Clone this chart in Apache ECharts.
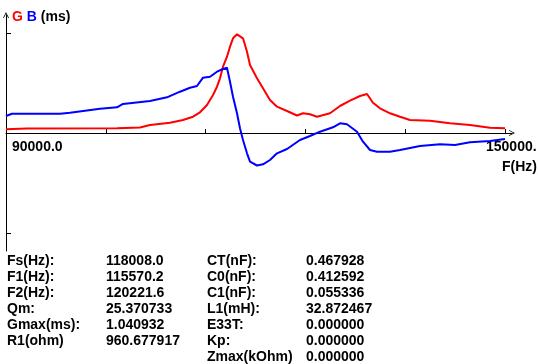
<!DOCTYPE html>
<html>
<head>
<meta charset="utf-8">
<script src="https://cdn.jsdelivr.net/npm/echarts@6/dist/echarts.min.js"></script>
<style>
html,body{margin:0;padding:0;background:#fff;}
#chart{width:538px;height:364px;}
</style>
</head>
<body>
<div id="chart"></div>
<script>
// Frequency (Hz) sample points for G (conductance, ms)
var gFreq = [90000, 92525, 103347, 106112, 107315, 109720, 111282, 112485, 113327, 114168, 114890, 115371, 115731, 116092, 116573, 116934, 117295, 117776, 118008, 118497, 118978, 119339, 120180, 120902, 121743, 122585, 123788, 124990, 125711, 126553, 127395, 128958, 130160, 131363, 132565, 133407, 134128, 134970, 136172, 137375, 138577, 140982, 143387, 145792, 148196, 150000];
var gVal  = [0.0385, 0.0468, 0.0489, 0.0573, 0.0833, 0.1072, 0.1353, 0.1697, 0.2155, 0.2915, 0.3956, 0.4819, 0.5694, 0.6901, 0.7942, 0.8983, 0.9858, 1.0274, 1.0409, 0.9858, 0.8463, 0.7078, 0.5694, 0.4653, 0.3435, 0.2738, 0.2290, 0.1822, 0.2051, 0.1947, 0.1697, 0.2051, 0.2810, 0.3362, 0.3851, 0.4060, 0.3154, 0.2571, 0.2051, 0.1697, 0.1353, 0.1280, 0.1010, 0.0833, 0.0552, 0.0489];
// Frequency (Hz) sample points for B (susceptance, ms)
var bFreq = [90000, 90721, 96493, 97695, 101303, 103347, 104068, 107315, 109359, 110922, 112124, 112966, 113687, 114529, 115371, 116092, 116573, 116934, 117295, 117776, 118136, 118497, 118978, 119339, 120180, 120902, 121743, 122585, 123788, 125351, 126553, 127756, 129319, 130160, 131002, 132204, 132926, 133768, 134609, 136172, 137375, 139780, 142184, 143988, 145792, 148196, 150000];
var bVal  = [0.1770, 0.2009, 0.2009, 0.2113, 0.2529, 0.2675, 0.3019, 0.3331, 0.3716, 0.4299, 0.4715, 0.4892, 0.5756, 0.5860, 0.6381, 0.6662, 0.6797, 0.5340, 0.3779, 0.2051, 0.0489, -0.0729, -0.2113, -0.2987, -0.3383, -0.3258, -0.2810, -0.2113, -0.1665, -0.0729, -0.0312, 0.0135, 0.0593, 0.1010, 0.0906, 0.0135, -0.0906, -0.1770, -0.1947, -0.1947, -0.1770, -0.1353, -0.1176, -0.1249, -0.0968, -0.0833, -0.0625];

var gMax = 1.040932;
var xTickValues = [102000, 114000, 126000, 138000, 150000];
var yTickValues = [-gMax, gMax];
var xLabelValues = [90000, 150000];
var xLabelTexts = ['90000.0', '150000.'];
var xAxisName = 'F(Hz)';
var titleParts = ['G', 'B', '(ms)'];

var tableLabels1 = ['Fs(Hz):', 'F1(Hz):', 'F2(Hz):', 'Qm:', 'Gmax(ms):', 'R1(ohm)'];
var tableValues1 = ['118008.0', '115570.2', '120221.6', '25.370733', '1.040932', '960.677917'];
var tableLabels2 = ['CT(nF):', 'C0(nF):', 'C1(nF):', 'L1(mH):', 'E33T:', 'Kp:', 'Zmax(kOhm)'];
var tableValues2 = ['0.467928', '0.412592', '0.055336', '32.872467', '0.000000', '0.000000', '0.000000'];

function pairs(xs, ys){ var o=[]; for(var i=0;i<xs.length;i++){o.push([xs[i], ys[i]]);} return o; }

var FONT = '"Liberation Sans", Arial, sans-serif';
var chart = echarts.init(document.getElementById('chart'), null, {renderer:'canvas'});
var arrow = 'path://M0,10L5,0L10,10L8.6,10L5,2.8L1.4,10Z';
var yLim = 118 * gMax / 100;

chart.setOption({
  animation: false,
  backgroundColor: '#ffffff',
  grid: {left: 6, right: 26, top: 15, bottom: 113, containLabel: false},
  xAxis: {
    type: 'value', min: 90000, max: 150842,
    axisLine: {show: true, onZero: true, lineStyle: {color: '#000', width: 1}, symbol: ['none', arrow], symbolSize: [10, 6]},
    axisTick: {show: true, inside: true, length: 4, customValues: xTickValues, lineStyle: {color: '#000'}},
    axisLabel: {show: false},
    splitLine: {show: false}
  },
  yAxis: {
    type: 'value', min: -yLim, max: yLim,
    axisLine: {show: true, onZero: false, lineStyle: {color: '#000', width: 1}, symbol: ['none', arrow], symbolSize: [10, 6]},
    axisTick: {show: true, inside: true, length: 5, customValues: yTickValues, lineStyle: {color: '#000'}},
    axisLabel: {show: false},
    splitLine: {show: false}
  },
  series: [
    {type: 'line', name: 'G', data: pairs(gFreq, gVal), showSymbol: false, lineStyle: {color: '#ff0000', width: 2}, itemStyle: {color: '#ff0000'}},
    {type: 'line', name: 'B', data: pairs(bFreq, bVal), showSymbol: false, lineStyle: {color: '#0000ff', width: 2}, itemStyle: {color: '#0000ff'}}
  ]
});

var txt = {fontFamily: FONT, fontWeight: 'bold', fontSize: 14, fill: '#000'};
function T(x, y, s, extra){
  var st = Object.assign({}, txt, {text: s, x: x, y: y, textVerticalAlign: 'middle'}, extra || {});
  return {type: 'text', style: st, silent: true};
}
var els = [];
var x0 = chart.convertToPixel({xAxisIndex: 0}, xLabelValues[0]);
var x1 = chart.convertToPixel({xAxisIndex: 0}, xLabelValues[1]);
els.push(T(x0 + 6, 147, xLabelTexts[0]));
els.push(T(x1 - 19, 147, xLabelTexts[1]));
els.push(T(537, 167, xAxisName, {textAlign: 'right'}));
els.push({type: 'text', silent: true, style: {
  x: 12, y: 17, textVerticalAlign: 'middle', fontFamily: FONT, fontWeight: 'bold', fontSize: 14,
  text: '{g|' + titleParts[0] + '} {b|' + titleParts[1] + '} {k|' + titleParts[2] + '}',
  rich: {g: {fill: '#ff0000', fontFamily: FONT, fontWeight: 'bold', fontSize: 14},
         b: {fill: '#0000ff', fontFamily: FONT, fontWeight: 'bold', fontSize: 14},
         k: {fill: '#000000', fontFamily: FONT, fontWeight: 'bold', fontSize: 14}}
}});
var rowY0 = 261, rowStep = 16;
for (var i = 0; i < tableLabels1.length; i++){
  els.push(T(7, rowY0 + i*rowStep, tableLabels1[i]));
  els.push(T(106, rowY0 + i*rowStep, tableValues1[i]));
}
for (var j = 0; j < tableLabels2.length; j++){
  els.push(T(207, rowY0 + j*rowStep, tableLabels2[j]));
  els.push(T(306, rowY0 + j*rowStep, tableValues2[j]));
}
chart.setOption({graphic: {elements: els}});
</script>
</body>
</html>
